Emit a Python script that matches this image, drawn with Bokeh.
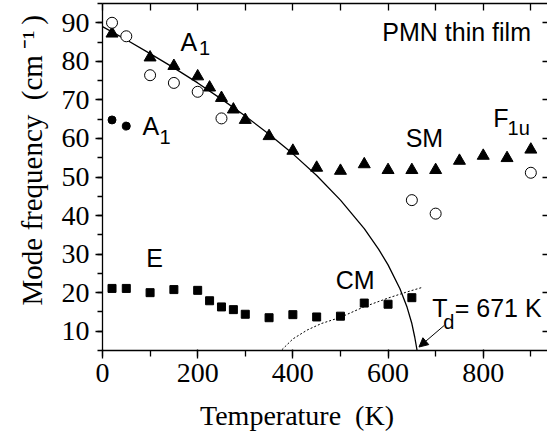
from bokeh.plotting import figure
from bokeh.models import (Range1d, LinearAxis, SingleIntervalTicker, Label,
                          Arrow, NormalHead, Title)
from bokeh.embed import file_html
from bokeh.resources import INLINE

# ---- data ----
tri_T = [20, 100, 150, 200, 225, 250, 275, 300, 350, 400, 450, 500, 550, 600,
         650, 700, 750, 800, 850, 900]
tri_w = [87.2, 81.0, 78.8, 76.1, 73.2, 70.5, 67.5, 64.8, 60.6, 56.8, 52.4, 51.6,
         53.3, 51.8, 51.8, 51.8, 54.2, 55.5, 54.9, 57.1]

open_T = [20, 50, 100, 150, 200, 250, 650, 700, 900]
open_w = [90.0, 86.5, 76.4, 74.4, 72.1, 65.2, 44.0, 40.5, 51.1]

fill_T = [20, 50]
fill_w = [64.8, 63.2]

sq_T = [20, 50, 100, 150, 200, 225, 250, 275, 300, 350, 400, 450, 500, 550, 600, 650]
sq_w = [21.1, 21.1, 20.0, 20.8, 20.6, 17.9, 16.3, 15.6, 14.4, 13.5, 14.3, 13.7,
        13.9, 17.3, 17.0, 18.7]

fit_T = [0, 50, 100, 150, 200, 250, 300, 350, 400, 450, 500, 550, 580, 600, 625,
         640, 650, 656, 661]
fit_w = [89.0, 85.6, 82.0, 78.3, 74.4, 70.2, 65.8, 61.1, 56.0, 50.4, 44.0, 36.6,
         31.3, 27.2, 21.0, 16.2, 12.0, 8.5, 5.0]

cm_T = [377, 400, 430, 460, 500, 549, 600, 640, 670]
cm_w = [5.2, 8.0, 10.3, 12.0, 13.6, 16.3, 18.6, 20.2, 21.3]

x_title = "Temperature \u00a0(K)" + "\u00a0" * 8
y_title = "Mode frequency \u00a0(cm\u2009\u207b\u00b9\u2009)"

SERIF = "Liberation Serif"
SANS = "Liberation Sans"

p = figure(width=547, height=438, output_backend="svg", toolbar_location=None,
           x_range=Range1d(0, 935), y_range=Range1d(5, 95),
           min_border_left=102, min_border_right=0, min_border_top=3,
           min_border_bottom=88)
p.outline_line_color = None
p.xgrid.visible = False
p.ygrid.visible = False
p.background_fill_color = "white"
p.border_fill_color = "white"

xa = p.xaxis[0]
xa.ticker = SingleIntervalTicker(interval=200, num_minor_ticks=2)
ya = p.yaxis[0]
ya.ticker = SingleIntervalTicker(interval=10, num_minor_ticks=2)

for ax in (xa, ya):
    ax.axis_line_width = 1.3
    ax.major_tick_line_width = 1.3
    ax.minor_tick_line_width = 1.3
    ax.major_label_text_font = SERIF
    ax.major_label_text_font_size = "28px"
    ax.major_label_text_color = "black"

xa.major_tick_in = 1
xa.major_tick_out = 8
xa.minor_tick_in = 0
xa.minor_tick_out = 6
xa.major_label_standoff = 5
xa.axis_label = x_title
xa.axis_label_text_font = SERIF
xa.axis_label_text_font_size = "28px"
xa.axis_label_text_font_style = "normal"
xa.axis_label_text_color = "black"
xa.axis_label_standoff = 15

ya.major_tick_in = 0
ya.major_tick_out = 7
ya.minor_tick_in = 0
ya.minor_tick_out = 5
ya.major_label_standoff = 6

top = LinearAxis(ticker=SingleIntervalTicker(interval=100, num_minor_ticks=0),
                 major_tick_in=7, major_tick_out=0, minor_tick_in=0, minor_tick_out=0,
                 major_label_text_font_size="0px", major_label_text_color=None,
                 major_label_standoff=0,
                 axis_line_width=1.3, major_tick_line_width=1.3)
p.add_layout(top, "above")
right = LinearAxis(ticker=SingleIntervalTicker(interval=10, num_minor_ticks=0),
                   major_tick_in=5, major_tick_out=0, minor_tick_in=0, minor_tick_out=0,
                   major_label_text_font_size="0px", major_label_text_color=None,
                   major_label_standoff=0,
                   axis_line_color=None, major_tick_line_width=1.3)
p.add_layout(right, "right")

# y axis title
p.add_layout(Title(text=y_title, text_font=SERIF, text_font_size="29px",
                   text_font_style="normal", text_color="black",
                   align="left", offset=45, standoff=22), "left")

# curves
p.line(fit_T, fit_w, line_color="black", line_width=1.3)
p.line(cm_T, cm_w, line_color="black", line_width=1, line_dash="2 2")

# markers
p.scatter(tri_T, tri_w, marker="triangle", size=12, fill_color="black",
          line_color="black")
p.scatter(open_T, open_w, marker="circle", size=11, fill_color="white",
          line_color="black", line_width=1)
p.scatter(fill_T, fill_w, marker="circle", size=8, fill_color="black",
          line_color="black")
p.scatter(sq_T, sq_w, marker="square", size=8, fill_color="black",
          line_color="black")

# annotations
def lab(x, y, t, size="25px"):
    p.add_layout(Label(x=x, y=y + 2.2, text=t, text_font=SANS, text_font_size=size,
                       text_color="black", text_align="left",
                       text_baseline="alphabetic"))

lab(588, 85.5, "PMN thin film")
lab(164, 82.7, "A")
lab(203, 81.2, "1", "20px")
lab(84, 61.1, "A")
lab(120, 58.3, "1", "20px")
lab(92, 26.7, "E")
lab(637, 58.0, "SM")
lab(821, 63.0, "F")
lab(851, 60.4, "1u", "20px")
lab(490, 21.2, "CM")
lab(693, 13.9, "T")
lab(716, 10.3, "d", "20px")
lab(740, 13.9, "= 671 K")

p.add_layout(Arrow(end=NormalHead(size=9, fill_color="black", line_color="black"),
                   x_start=718, y_start=11.5, x_end=665, y_end=5.9,
                   line_color="black", line_width=1))

open("out.html", "w").write(file_html(p, INLINE))
